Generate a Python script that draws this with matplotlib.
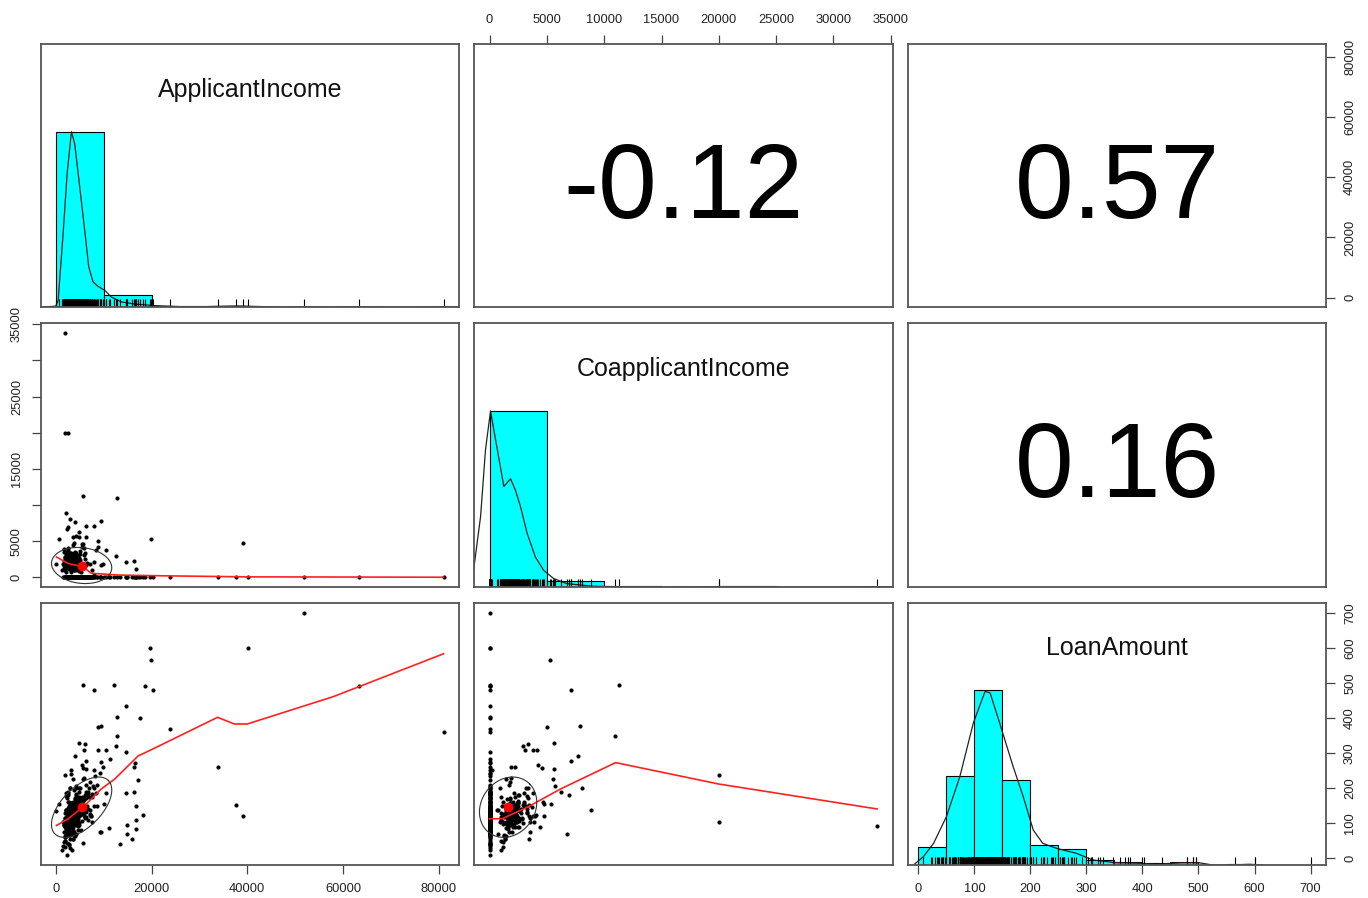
import numpy as np
import matplotlib
matplotlib.use('Agg')
import matplotlib.pyplot as plt
from matplotlib.patches import Rectangle

plt.rcParams['font.family'] = ['Liberation Sans', 'DejaVu Sans']

var_names = ['ApplicantIncome', 'CoapplicantIncome', 'LoanAmount']

# ---------------- data ----------------
cloud_ai = [
    2583, 3000, 2333, 6000, 5417, 2333, 3036, 4006, 3200, 2500,
    3073, 1853, 1299, 4950, 3596, 3510, 4887, 2600, 7660, 3365,
    2799, 4226, 1442, 3750, 4166, 3167, 4692, 3500, 2275, 3667,
    4166, 3748, 3600, 1800, 2400, 3941, 4695, 3410, 5649, 5821,
    2645, 4000, 1928, 3086, 4230, 4616, 4300, 8000, 2014, 2718,
    3459, 4895, 4000, 3717, 2333, 4750, 3875, 3000, 5167, 4723,
    4300, 5250, 3750, 6250, 2720, 3166, 2400, 3998, 5829, 2665,
    2492, 3333, 3750, 4708, 3539, 3200, 1820, 2366, 3846, 7333,
    3917, 4095, 3125, 2708, 3652, 4583, 2149, 3089, 6045, 5726,
    3200, 3750, 2500, 4160, 2214, 2333, 3418, 5000, 2583, 4583,
    6216, 4400, 2383, 2667, 3510, 5800, 8072, 3598, 2935, 4700,
    3399, 3600, 3036, 3333, 4288, 3858, 4191, 3859, 5400, 2900,
    7100, 2071, 3100, 2625, 3750, 2750, 9323, 3500, 1958, 4546,
    2300, 2860, 4100, 5417, 1880, 2679, 3668, 6277, 3539, 1977,
    4333, 2479, 3150, 3167, 2750, 5819, 2426, 4817, 3948, 4310,
    6400, 7500, 8750, 6633, 7167, 9166, 6500, 8333, 10000, 7142,
    9504, 6080, 10416, 6875, 7578, 8624, 9833, 7333, 6250, 8566,
    5703, 6822, 5316, 5833, 5746, 6950, 5677, 6083, 5532, 5124,
    1500, 1625, 1782, 1836, 2132, 2237, 2242, 2281, 2378, 2435,
    2510, 2614, 2758, 2917, 3013, 3158, 3254, 3417, 3466, 3571,
    3691, 3812, 3975, 4124, 4281, 4450, 4583, 4731, 4945, 5185,
    2015, 2137, 2395, 2484, 2694, 2783, 2929, 3087, 3276, 3833,
    1668, 1759, 1811, 1926, 2031, 2165, 2301, 2479, 2588, 2699,
    2750, 3325, 4083, 3846, 2895, 3617, 4625, 5041, 2137, 3180,
    3902, 2878, 3417, 4683, 2653, 3523, 4053, 5285, 2987, 3762,
    2221, 3091, 3800, 4442, 2569, 3237, 3716, 5532, 6540, 4867,
    2948, 3450, 3958, 2457, 3052, 3643, 4350, 4973, 2776, 3305,
    3598, 2396, 2834, 3183, 3726, 4108, 4520, 6669, 7830, 2165,
    2542, 3015, 3366, 3895, 4239, 4787, 5333, 2703, 3140, 3505,
    1917, 2217, 2488, 2890, 3267, 3624, 4072, 4491, 5064, 5993,
    2604, 2966, 3386, 3729, 4179, 4950, 5568, 6333, 7200, 8300,
    2275, 2718, 3117, 3533, 3983, 4364, 4900, 3280, 2860, 3690,
    1977, 2431, 2916, 3358, 3850, 4334, 4768, 5180, 5961, 6780,
]
cloud_ci = [
    1508, 0, 2358, 0, 4196, 1516, 2504, 1526, 700, 1840,
    0, 2840, 960, 0, 0, 0, 0, 3500, 0, 1917,
    2253, 1040, 0, 2083, 3369, 0, 0, 1667, 2067, 1459,
    0, 1668, 0, 1213, 0, 2336, 0, 0, 0, 0,
    3440, 2275, 1644, 0, 0, 0, 0, 0, 1929, 0,
    0, 0, 0, 2925, 2451, 0, 0, 3416, 3167, 0,
    2500, 688, 4750, 0, 0, 2985, 1880, 0, 0, 2500,
    2375, 2000, 2916, 1387, 1376, 2254, 1719, 2531, 0, 0,
    0, 3447, 2583, 1167, 0, 0, 3237, 1280, 0, 4595,
    950, 0, 3796, 0, 1398, 1451, 0, 3667, 2330, 2083,
    0, 0, 3334, 1625, 4416, 0, 240, 1287, 0, 0,
    1640, 2500, 2504, 2166, 3263, 0, 0, 3300, 0, 2000,
    0, 754, 1400, 2250, 0, 2015, 0, 0, 2785, 3000,
    1600, 2098, 0, 0, 0, 1302, 0, 0, 1376, 997,
    2451, 0, 3292, 3167, 1625, 4000, 1666, 923, 1451, 0,
    0, 0, 4167, 0, 0, 0, 2000, 3750, 0, 0,
    0, 2569, 0, 0, 1010, 0, 1833, 0, 1695, 0,
    0, 0, 0, 1857, 0, 0, 1424, 3350, 4648, 0,
    1800, 1803, 2232, 0, 1591, 0, 1560, 0, 0, 0,
    0, 0, 1250, 0, 1700, 0, 1200, 0, 2100, 0,
    0, 1008, 0, 0, 2000, 0, 1800, 0, 2600, 0,
    0, 0, 0, 0, 0, 0, 0, 0, 0, 0,
    3890, 3541, 0, 1851, 2569, 3500, 1843, 3013, 4083, 0,
    0, 2054, 0, 1750, 0, 2250, 0, 1800, 1500, 0,
    2100, 0, 1925, 0, 2430, 0, 1600, 0, 2333, 1000,
    0, 1900, 0, 2500, 1800, 0, 2375, 0, 0, 1560,
    1700, 0, 2250, 0, 2100, 1400, 0, 0, 2250, 1850,
    0, 2800, 0, 1983, 0, 2500, 0, 0, 0, 1625,
    2208, 0, 1300, 0, 2000, 0, 0, 3000, 1100, 0,
    1250, 0, 2200, 0, 1560, 0, 1800, 0, 2400, 0,
    0, 1500, 0, 2750, 0, 1200, 0, 0, 1800, 0,
    2600, 0, 1940, 0, 1666, 0, 2250, 0, 1430, 2700,
    0, 1417, 0, 2300, 0, 1800, 0, 1450, 0, 0,
]
cloud_la = [
    128, 66, 120, 141, 267, 95, 158, 168, 70, 109,
    200, 114, 23, 125, 100, 76, 133, 115, 104, 112,
    122, 110, 35, 120, 201, 74, 106, 114, 90, 144,
    184, 110, 80, 47, 75, 134, 96, 88, 44, 144,
    120, 144, 100, 120, 112, 134, 136, 200, 74, 70,
    25, 102, 160, 151, 110, 94, 67, 56, 200, 93,
    180, 139, 155, 188, 120, 158, 135, 160, 138, 90,
    104, 132, 100, 150, 55, 126, 100, 136, 111, 120,
    124, 151, 90, 97, 95, 133, 178, 121, 115, 258,
    105, 113, 120, 71, 138, 102, 135, 146, 104, 160,
    133, 127, 172, 84, 90, 132, 253, 100, 96, 80,
    136, 150, 158, 98, 133, 76, 120, 142, 107, 133,
    125, 138, 123, 90, 100, 130, 75, 96, 130, 162,
    90, 109, 150, 168, 61, 66, 160, 118, 55, 50,
    110, 188, 130, 149, 100, 120, 113, 200, 63, 134,
    180, 184, 308, 110, 128, 244, 150, 187, 155, 138,
    275, 182, 187, 200, 175, 150, 260, 122, 210, 210,
    128, 141, 136, 230, 144, 175, 225, 325, 162, 124,
    103, 96, 107, 90, 96, 63, 115, 113, 9, 75,
    95, 160, 128, 71, 113, 99, 105, 130, 140, 118,
    104, 118, 172, 146, 96, 125, 171, 111, 137, 81,
    50, 187, 44, 145, 160, 42, 30, 240, 253, 194,
    104, 75, 95, 100, 116, 105, 128, 187, 123, 37,
    100, 128, 110, 158, 97, 152, 135, 170, 115, 96,
    140, 104, 127, 120, 117, 108, 143, 147, 126, 130,
    88, 122, 108, 165, 113, 91, 150, 175, 180, 152,
    115, 120, 148, 77, 138, 131, 125, 140, 111, 123,
    95, 112, 85, 128, 116, 161, 105, 190, 205, 97,
    120, 70, 118, 106, 145, 136, 158, 150, 128, 101,
    65, 80, 117, 110, 130, 112, 144, 129, 155, 166,
    99, 125, 94, 142, 121, 160, 148, 172, 218, 236,
    108, 98, 133, 126, 119, 131, 175, 102, 88, 137,
    60, 105, 123, 114, 139, 157, 120, 144, 172, 185,
]

outlier_ai = [51763, 19600, 19800, 40080, 5600, 8000, 12850, 12170, 18540, 20290,
              14580, 12850, 17500, 8830, 9400, 23960, 81000, 63337, 33846, 37719,
              39147, 2020, 1880, 2580, 3060, 4100, 6400, 2640, 2400, 4950,
              2230, 700, 6400, 3500, 4200, 10560, 12650, 14730, 16460, 16250,
              17170, 14580, 16350, 16800, 18200, 16670, 16670, 14930, 14930, 15900,
              13340, 11050, 11400, 9520, 150, 8000, 2000, 4950, 5900]
outlier_ci = [0, 0, 5300, 0, 11300, 7140, 10940, 0, 0, 0,
              0, 0, 0, 5050, 7850, 0, 0, 0, 0, 0,
              4750, 33837, 20000, 20000, 8070, 7700, 7140, 6900, 6720, 6200,
              8860, 5330, 5600, 5500, 5700, 3750, 2900, 0, 0, 2180,
              0, 2130, 0, 1070, 0, 0, 0, 0, 0, 0,
              0, 0, 0, 1700, 1800, 2140, 1160, 5600, 3070]
outlier_la = [700, 600, 566, 600, 495, 480, 348, 495, 490, 480,
              435, 402, 400, 374, 378, 369, 359, 490, 260, 152,
              120, 92, 239, 103, 200, 292, 277, 181, 71, 190,
              138, 155, 256, 225, 205, 310, 320, 303, 273, 260,
              223, 186, 190, 150, 124, 110, 85, 95, 71, 56,
              40, 87, 282, 75, 135, 150, 33, 330, 310]

corr_text = {(0, 1): '-0.12', (0, 2): '0.57', (1, 2): '0.16'}
corr_r = {(1, 0): -0.12, (2, 0): 0.57, (2, 1): 0.16}

# ellipse centres / spreads
ell_mean = [5403, 1621, 146]
ell_sd = [6300, 2500, 86]

# histograms (relative bar heights)
ai_edges = [0, 10000, 20000, 30000, 40000, 50000, 60000, 70000, 80000, 90000]
ai_heights = [1.0, 0.067, 0.005, 0.007, 0.0, 0.0017, 0.0017, 0.0, 0.0017]
ci_edges = [0, 5000, 10000, 15000, 20000, 25000, 30000, 35000]
ci_heights = [1.0, 0.035, 0.004, 0.0, 0.004, 0.0, 0.002]
la_edges = [0, 50, 100, 150, 200, 250, 300, 350, 400, 450, 500, 550, 600, 650, 700]
la_heights = [0.101, 0.507, 1.0, 0.488, 0.115, 0.09, 0.029, 0.019, 0.01, 0.019,
              0.002, 0.004, 0.002, 0.002]

# density curves (scaled to peak 1)
ai_dens_x = [-2500, 0, 500, 1540, 2370, 3270, 3960, 5000, 6040, 6880, 7790, 8830,
             10210, 11600, 13690, 16460, 20630, 26000, 30000, 34000, 38000, 42000,
             47000, 52000, 57000, 63000, 69000, 75000, 81000, 84000]
ai_dens_y = [0, 0.005, 0.038, 0.42, 0.76, 1.0, 0.93, 0.686, 0.438, 0.23, 0.143, 0.118,
             0.095, 0.057, 0.029, 0.017, 0.008, 0.002, 0.001, 0.004, 0.006, 0.003,
             0.0, 0.002, 0.0, 0.002, 0.0, 0.0, 0.002, 0.0]
ci_dens_x = [-1400, -780, -350, 87, 520, 1250, 1830, 2260, 2700, 3280, 4000, 4720,
             5590, 6760, 9070, 11000, 15000, 20000, 25000, 30000, 33837, 35200]
ci_dens_y = [0.09, 0.40, 0.78, 1.0, 0.84, 0.571, 0.615, 0.55, 0.457, 0.305, 0.17, 0.095,
             0.048, 0.019, 0.004, 0.002, 0.0, 0.002, 0.0, 0.0, 0.002, 0.0]
la_dens_x = [-9, 9, 27, 50, 74, 98, 119, 128, 145, 169, 187, 205, 222, 246, 282, 311,
             353, 394, 424, 471, 501, 525, 560, 590, 614]
la_dens_y = [0, 0.048, 0.124, 0.277, 0.507, 0.813, 0.994, 0.985, 0.813, 0.564, 0.392,
             0.2, 0.124, 0.096, 0.067, 0.029, 0.013, 0.01, 0.004, 0.013, 0.013, 0.0,
             0.0, 0.004, 0.0]

# loess smooths
loess_ai_ci_x = [150, 2600, 5700, 7400, 13000, 22000, 40000, 81000]
loess_ai_ci_y = [2800, 1900, 1450, 550, 300, 200, 50, 0]
loess_ai_la_x = [150, 2600, 6000, 9500, 12300, 17200, 20000, 33800, 37300, 40000, 58000, 81000]
loess_ai_la_y = [94, 113, 150, 198, 226, 292, 310, 402, 383, 383, 461, 583]
loess_ci_la_x = [0, 1100, 3300, 6200, 11000, 20000, 33800]
loess_ci_la_y = [113, 113, 146, 198, 273, 212, 141]

# axis ticks
ai_ticks = [0, 20000, 40000, 60000, 80000]
ci_ticks = [0, 5000, 10000, 15000, 20000, 25000, 30000, 35000]
ci_left_labels = ['0', '5000', '', '15000', '', '25000', '', '35000']
la_ticks = [0, 100, 200, 300, 400, 500, 600, 700]

# ---------------- assemble ----------------
data = [np.array(cloud_ai + outlier_ai, float),
        np.array(cloud_ci + outlier_ci, float),
        np.array(cloud_la + outlier_la, float)]
hists = [(ai_edges, ai_heights), (ci_edges, ci_heights), (la_edges, la_heights)]
dens = [(ai_dens_x, ai_dens_y), (ci_dens_x, ci_dens_y), (la_dens_x, la_dens_y)]
loess = {(1, 0): (loess_ai_ci_x, loess_ai_ci_y),
         (2, 0): (loess_ai_la_x, loess_ai_la_y),
         (2, 1): (loess_ci_la_x, loess_ci_la_y)}


def lims(v):
    lo, hi = v.min(), v.max()
    d = 0.04 * (hi - lo)
    return lo - d, hi + d


L = [lims(v) for v in data]


def ellipse(cx, cy, sx, sy, r, n=51):
    t = np.linspace(0, 2 * np.pi, n + 1)
    circ = np.column_stack([np.cos(t), np.sin(t)])
    th = np.sign(r) / np.sqrt(2) if r != 0 else 1 / np.sqrt(2)
    shape = np.diag([np.sqrt(1 + r), np.sqrt(1 - r)]) @ np.array([[th, th], [-th, th]])
    e = circ @ shape
    return e[:, 0] * sx + cx, e[:, 1] * sy + cy


W, H = 1368, 898
fig = plt.figure(figsize=(W / 100, H / 100), dpi=100)
col_x = [41, 474, 908]
col_w = [418, 419, 418]
row_t = [44, 323, 603]
row_h = [263, 264, 262]

spine_col = '#555555'
tick_kw = dict(direction='out', length=6.5, width=0.9, colors='#444444',
               labelsize=9.3, pad=6.5, labelcolor='#222222')


def style(ax):
    for s in ax.spines.values():
        s.set_color(spine_col)
        s.set_linewidth(1.3)
    ax.set_xticks([])
    ax.set_yticks([])


axes = {}
for i in range(3):
    for j in range(3):
        ax = fig.add_axes([col_x[j] / W, 1 - (row_t[i] + row_h[i]) / H,
                           col_w[j] / W, row_h[i] / H])
        style(ax)
        ax.set_xlim(*L[j])
        axes[(i, j)] = ax
        if i == j:
            ax.set_ylim(0, 1.5)
            edges, hts = hists[i]
            for k, h in enumerate(hts):
                ax.add_patch(Rectangle((edges[k], 0), edges[k + 1] - edges[k], h,
                                       facecolor='#00FFFF', edgecolor='black', lw=0.8))
            dx, dy = dens[i]
            ax.plot(dx, dy, color='#222222', lw=0.9)
            ax.vlines(data[i], 0, 0.045, color='black', lw=0.8)
            ax.text(0.5, 0.80, var_names[i], transform=ax.transAxes,
                    ha='center', va='baseline', fontsize=18, color='#111111')
        elif i < j:
            ax.set_ylim(*L[i])
            ax.text(0.5, 0.34, corr_text[(i, j)], transform=ax.transAxes,
                    ha='center', va='baseline', fontsize=76, color='black')
        else:
            ax.set_ylim(*L[i])
            x, y = data[j], data[i]
            ax.plot(x, y, 'o', ms=3.0, color='black', mew=0)
            lx, ly = loess[(i, j)]
            ax.plot(lx, ly, color='#ff2020', lw=1.2)
            ex, ey = ellipse(ell_mean[j], ell_mean[i], ell_sd[j], ell_sd[i], corr_r[(i, j)])
            ax.plot(ex, ey, color='#333333', lw=0.8)
            ax.plot([ell_mean[j]], [ell_mean[i]], 'o', ms=7, color='red', mew=0)

# ---- axes with ticks (R pairs style) ----
ax = axes[(0, 1)]
ax.xaxis.tick_top()
ax.set_xticks(ci_ticks)
ax.set_xticklabels([str(t) for t in ci_ticks])
ax.tick_params(axis='x', **tick_kw)

ax = axes[(0, 2)]
ax.yaxis.tick_right()
ax.set_yticks(ai_ticks)
ax.set_yticklabels([str(t) for t in ai_ticks], rotation=90, va='center')
ax.tick_params(axis='y', **tick_kw)

ax = axes[(1, 0)]
ax.set_yticks(ci_ticks)
ax.set_yticklabels(ci_left_labels, rotation=90, va='center')
ax.tick_params(axis='y', **tick_kw)

ax = axes[(2, 0)]
ax.set_xticks(ai_ticks)
ax.set_xticklabels([str(t) for t in ai_ticks])
ax.tick_params(axis='x', **tick_kw)

ax = axes[(2, 2)]
ax.set_xticks(la_ticks)
ax.set_xticklabels([str(t) for t in la_ticks])
ax.tick_params(axis='x', **tick_kw)
ax2 = ax.twinx()
ax2.set_ylim(*L[2])
for s in ax2.spines.values():
    s.set_visible(False)
ax2.set_yticks(la_ticks)
ax2.set_yticklabels([str(t) for t in la_ticks], rotation=90, va='center')
ax2.tick_params(axis='y', **tick_kw)

fig.savefig('out.png', dpi=100)
